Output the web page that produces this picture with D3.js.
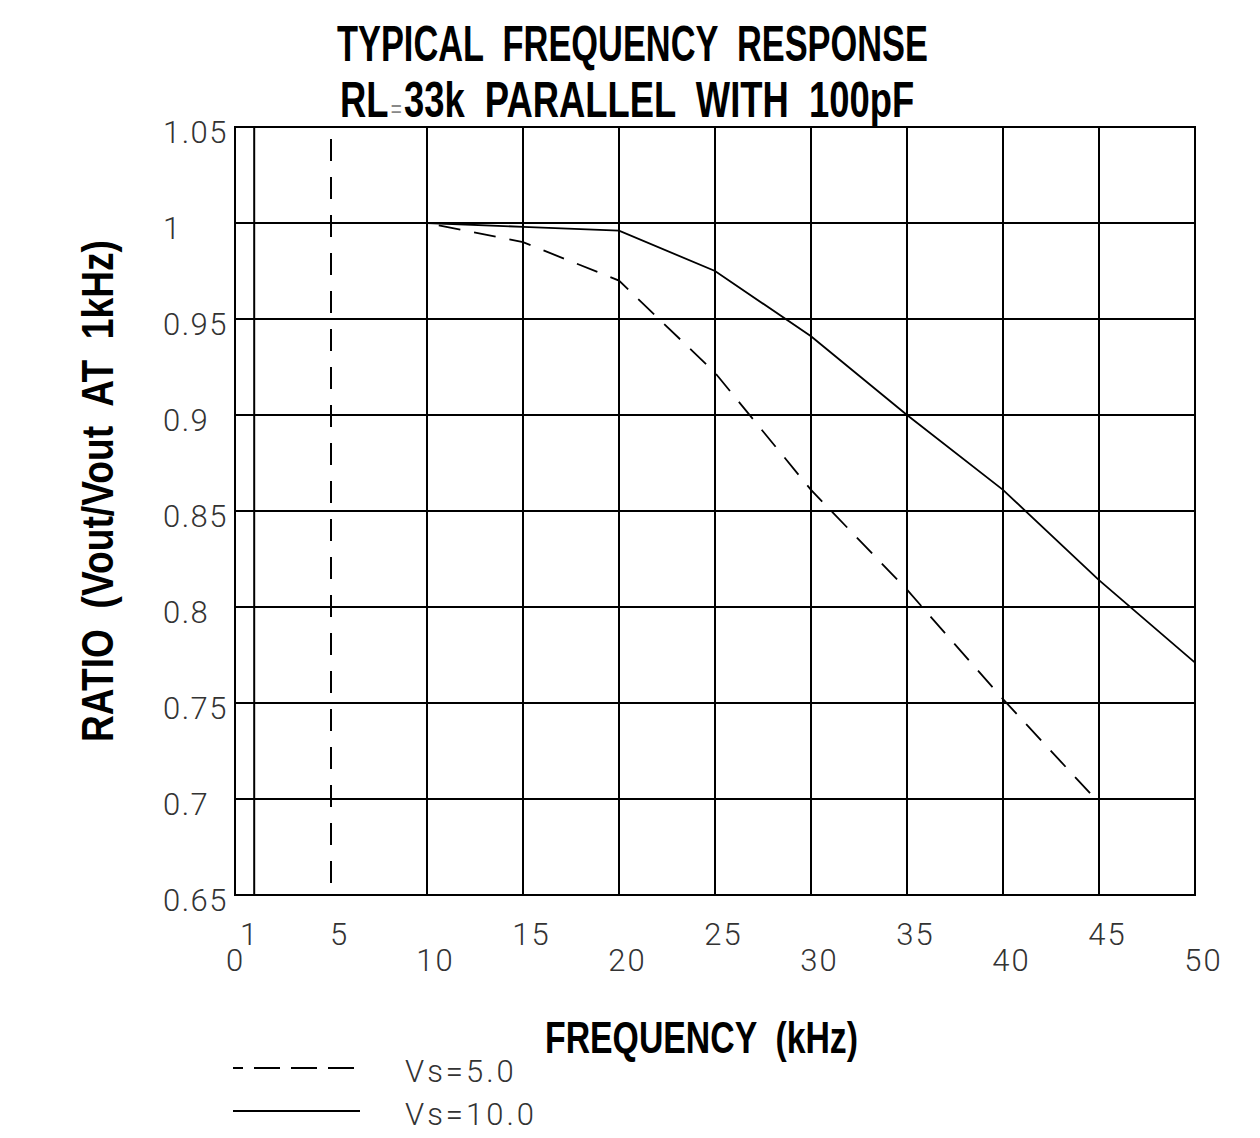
<!DOCTYPE html>
<html>
<head>
<meta charset="utf-8">
<script src="https://cdn.jsdelivr.net/npm/d3@7"></script>
<style>
  body { margin: 0; background: #fff; }
  .thin { font-family: Roboto, Lato, "DejaVu Sans", sans-serif; font-weight: 300; fill: #333; }
  .bold { font-family: "Liberation Sans Narrow", "Liberation Sans", Arial, sans-serif; font-weight: bold; fill: #000; white-space: pre; }
</style>
</head>
<body>
<div id="chart"></div>
<script>
// Typical frequency response, RL = 33k // 100pF

const freqs = [10, 15, 20, 25, 30, 35, 40, 45, 50];
const vs5 = [1.0, 0.990, 0.970, 0.922, 0.861, 0.809, 0.752, 0.698, null];
const vs10 = [1.0, 0.998, 0.996, 0.975, 0.941, 0.900, 0.861, 0.814, 0.771];

const xGrid = [1, 10, 15, 20, 25, 30, 35, 40, 45];
const xDashedGrid = [5];
const yGrid = [0.7, 0.75, 0.8, 0.85, 0.9, 0.95, 1.0];

const yTicks = [1.05, 1.0, 0.95, 0.9, 0.85, 0.8, 0.75, 0.7, 0.65];
const yTickLabels = ["1.05", "1", "0.95", "0.9", "0.85", "0.8", "0.75", "0.7", "0.65"];
const xTicksUpper = [1, 5, 15, 25, 35, 45];
const xTicksLower = [0, 10, 20, 30, 40, 50];

const width = 1260, height = 1138;

const svg = d3.select("#chart")
    .append("svg")
    .attr("width", width)
    .attr("height", height);

const x = d3.scaleLinear().domain([0, 50]).range([235, 1195]);
const y = d3.scaleLinear().domain([0.65, 1.05]).range([895, 127]);

// Grid
const grid = svg.append("g").attr("stroke", "#000").attr("stroke-width", 2);

grid.selectAll("line.v")
    .data(xGrid)
    .join("line")
    .attr("class", "v")
    .attr("x1", d => x(d)).attr("x2", d => x(d))
    .attr("y1", y(1.05)).attr("y2", y(0.65));

grid.selectAll("line.vd")
    .data(xDashedGrid)
    .join("line")
    .attr("class", "vd")
    .attr("x1", d => x(d)).attr("x2", d => x(d))
    .attr("y1", y(1.05)).attr("y2", y(0.652))
    .attr("stroke-dasharray", "22,16")
    .attr("stroke-dashoffset", -12);

grid.selectAll("line.h")
    .data(yGrid)
    .join("line")
    .attr("class", "h")
    .attr("x1", x(0)).attr("x2", x(50))
    .attr("y1", d => y(d)).attr("y2", d => y(d));

// Frame
svg.append("rect")
    .attr("x", x(0)).attr("y", y(1.05))
    .attr("width", x(50) - x(0)).attr("height", y(0.65) - y(1.05))
    .attr("fill", "none")
    .attr("stroke", "#000")
    .attr("stroke-width", 2);

// Data lines
const line = d3.line()
    .defined(d => d[1] != null)
    .x(d => x(d[0]))
    .y(d => y(d[1]));

svg.append("path")
    .datum(freqs.map((f, i) => [f, vs10[i]]))
    .attr("d", line)
    .attr("fill", "none")
    .attr("stroke", "#000")
    .attr("stroke-width", 1.8);

svg.append("path")
    .datum(freqs.map((f, i) => [f, vs5[i]]))
    .attr("d", line)
    .attr("fill", "none")
    .attr("stroke", "#000")
    .attr("stroke-width", 1.8)
    .attr("stroke-dasharray", "22,14")
    .attr("stroke-dashoffset", -12);

// Y axis labels
const yAxis = svg.append("g")
    .attr("transform", `translate(${x(0)},0)`)
    .call(d3.axisLeft(y).tickValues(yTicks).tickSize(0)
        .tickFormat((d, i) => yTickLabels[i]));
yAxis.select(".domain").remove();
yAxis.selectAll("text")
    .attr("class", "thin")
    .attr("text-anchor", "start")
    .attr("x", -72)
    .attr("dy", "0.5em")
    .style("font-size", "31px")
    .style("letter-spacing", "1.5px")
    .attr("font-family", null);

// X axis labels, staggered in two rows
function xLabels(values, rowY) {
    const g = svg.append("g")
        .attr("transform", `translate(0,${y(0.65)})`)
        .call(d3.axisBottom(x).tickValues(values).tickSize(0).tickFormat(d3.format("d")));
    g.select(".domain").remove();
    g.selectAll("text")
        .attr("class", "thin")
        .attr("y", rowY)
        .attr("dy", 0)
        .attr("dx", d => d === 0 ? 0 : (d === 1 ? -5 : 8))
        .style("font-size", "31px")
        .style("letter-spacing", "2px")
        .attr("font-family", null);
}
xLabels(xTicksUpper, 50);
xLabels(xTicksLower, 76);

// Titles
svg.append("text")
    .attr("class", "bold")
    .attr("x", 337).attr("y", 61)
    .attr("textLength", 591)
    .attr("lengthAdjust", "spacingAndGlyphs")
    .style("font-size", "50px")
    .text("TYPICAL  FREQUENCY  RESPONSE");

// second title line; the "=" is drawn as a small grey glyph
const t2 = svg.append("text")
    .attr("class", "bold")
    .attr("x", 340).attr("y", 117)
    .style("font-size", "50px");
t2.append("tspan").text("RL");
t2.append("tspan")
    .attr("dx", 3)
    .style("font-weight", "normal").style("fill", "#888").style("font-size", "26px")
    .text("=");
t2.append("tspan").attr("dx", 3).text("33k  PARALLEL  WITH  100pF");

// squeeze line 2 to the reference width
const t2w = t2.node().getComputedTextLength();
t2.attr("transform", `translate(340,0) scale(${570 / t2w},1) translate(-340,0)`);

svg.append("text")
    .attr("class", "bold")
    .attr("transform", "translate(113,742) rotate(-90)")
    .attr("textLength", 502)
    .attr("lengthAdjust", "spacingAndGlyphs")
    .style("font-size", "44px")
    .text("RATIO  (Vout/Vout  AT  1kHz)");

svg.append("text")
    .attr("class", "bold")
    .attr("x", 545).attr("y", 1053)
    .attr("textLength", 313)
    .attr("lengthAdjust", "spacingAndGlyphs")
    .style("font-size", "45px")
    .text("FREQUENCY  (kHz)");

// Legend
const legend = [
    { label: "Vs=5.0", dash: "26,11", y: 1068 },
    { label: "Vs=10.0", dash: null, y: 1111 }
];
const lg = svg.append("g");
lg.selectAll("line")
    .data(legend)
    .join("line")
    .attr("x1", 233).attr("x2", 360)
    .attr("y1", d => d.y).attr("y2", d => d.y)
    .attr("stroke", "#000")
    .attr("stroke-width", 1.8)
    .attr("stroke-dasharray", d => d.dash)
    .attr("stroke-dashoffset", 16);
lg.selectAll("text")
    .data(legend)
    .join("text")
    .attr("class", "thin")
    .attr("x", 405)
    .attr("y", d => d.y + 14)
    .style("font-size", "31px")
    .style("letter-spacing", "3px")
    .text(d => d.label);
</script>
</body>
</html>
